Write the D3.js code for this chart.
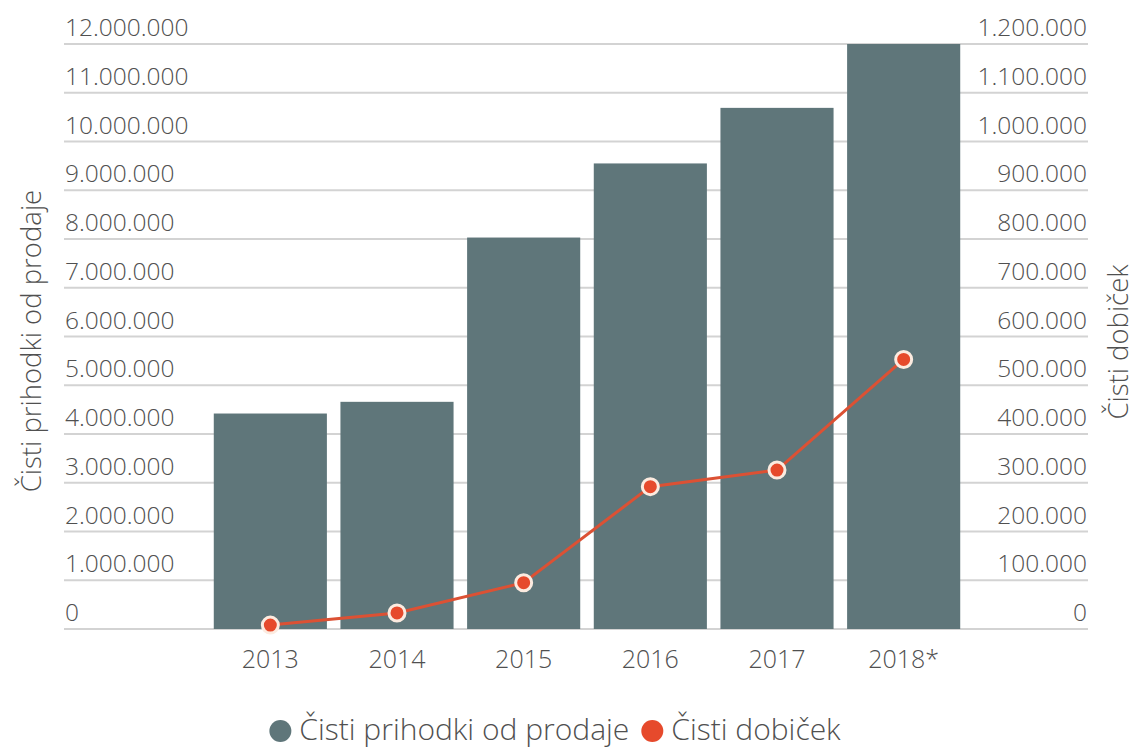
<!DOCTYPE html>
<html>
<head>
<meta charset="utf-8">
<script src="https://cdn.jsdelivr.net/npm/d3@7"></script>
<style>
  body { margin: 0; background: #fff; }
  svg text { font-family: "Open Sans", "Noto Sans", sans-serif; font-weight: 300; fill: #505050; }
</style>
</head>
<body>
<script>
'use strict';

// chart data
let years = ["2013", "2014", "2015", "2016", "2017", "2018*"];
let revenue = [4420000, 4660000, 8030000, 9550000, 10690000, 12000000];
let profit = [8000, 33000, 95000, 292000, 326000, 553000];

let leftTicks = d3.range(0, 12000001, 1000000);
let rightTicks = d3.range(0, 1200001, 100000);

let leftTitle = "Čisti prihodki od prodaje";
let rightTitle = "Čisti dobiček";

let barColor = "#5f767a";
let lineColor = "#dc5134";

let width = 1136, height = 750;

let svg = d3.select("body").append("svg")
  .attr("width", width)
  .attr("height", height);

// dotted number format 12.000.000
let fmt = d3.formatLocale({ decimal: ",", thousands: ".", grouping: [3], currency: ["", ""] }).format(",d");

// scales
let x = d3.scaleBand()
  .domain(years)
  .range([207, 967])
  .paddingInner(0.107)
  .paddingOuter(0.0535);

let yLeft = d3.scaleLinear().domain([0, 12000000]).range([629, 44]);
let yRight = d3.scaleLinear().domain([0, 1200000]).range([629, 44]);

// gridlines
svg.append("g")
  .selectAll("line")
  .data(leftTicks)
  .enter()
  .append("line")
  .attr("x1", 64)
  .attr("x2", 1088)
  .attr("y1", d => yLeft(d))
  .attr("y2", d => yLeft(d))
  .attr("stroke", "#d3d3d3")
  .attr("stroke-width", 2);

// left tick labels
svg.append("g")
  .selectAll("text")
  .data(leftTicks)
  .enter()
  .append("text")
  .attr("x", 65)
  .attr("y", d => yLeft(d) - 8)
  .style("font-size", "24.5px")
  .text(d => fmt(d));

// right tick labels
svg.append("g")
  .selectAll("text")
  .data(rightTicks)
  .enter()
  .append("text")
  .attr("x", 1087)
  .attr("y", d => yRight(d) - 8)
  .attr("text-anchor", "end")
  .style("font-size", "24.5px")
  .text(d => fmt(d));

// bars
svg.append("g")
  .selectAll("rect")
  .data(revenue)
  .enter()
  .append("rect")
  .attr("x", (d, i) => x(years[i]))
  .attr("width", x.bandwidth())
  .attr("y", d => yLeft(d))
  .attr("height", d => yLeft(0) - yLeft(d))
  .attr("fill", barColor);

// x labels
svg.append("g")
  .selectAll("text")
  .data(years)
  .enter()
  .append("text")
  .attr("x", d => x(d) + x.bandwidth() / 2)
  .attr("y", 668)
  .attr("text-anchor", "middle")
  .style("font-size", "25px")
  .text(d => d);

// profit line
let line = d3.line()
  .x((d, i) => x(years[i]) + x.bandwidth() / 2)
  .y(d => yRight(d));

svg.append("path")
  .datum(profit)
  .attr("d", line)
  .attr("fill", "none")
  .attr("stroke", lineColor)
  .attr("stroke-width", 3);

svg.append("g")
  .selectAll("circle")
  .data(profit)
  .enter()
  .append("circle")
  .attr("cx", (d, i) => x(years[i]) + x.bandwidth() / 2)
  .attr("cy", d => yRight(d))
  .attr("r", 8)
  .attr("fill", "#e64a2c")
  .attr("stroke", "#fcebe0")
  .attr("stroke-width", 3);

// axis titles
svg.append("text")
  .attr("transform", "translate(41,341) rotate(-90)")
  .attr("text-anchor", "middle")
  .style("font-size", "27.5px")
  .text(leftTitle);

svg.append("text")
  .attr("transform", "translate(1128,342) rotate(-90)")
  .attr("text-anchor", "middle")
  .style("font-size", "27.5px")
  .text(rightTitle);

// legend
let legendItems = [
  { label: leftTitle, color: barColor },
  { label: rightTitle, color: "#e64a2c" }
];
let legend = svg.append("g");
let lx = 0;
legendItems.forEach(item => {
  let g = legend.append("g").attr("transform", "translate(" + lx + ",0)");
  g.append("circle")
    .attr("cx", 11)
    .attr("cy", 0)
    .attr("r", 11)
    .attr("fill", item.color);
  let t = g.append("text")
    .attr("x", 30)
    .attr("y", 9)
    .style("font-size", "30px")
    .text(item.label);
  lx += 30 + t.node().getComputedTextLength() + 12;
});
let legendWidth = lx - 12;
legend.attr("transform", "translate(" + (555 - legendWidth / 2) + ",731)");
</script>
</body>
</html>
